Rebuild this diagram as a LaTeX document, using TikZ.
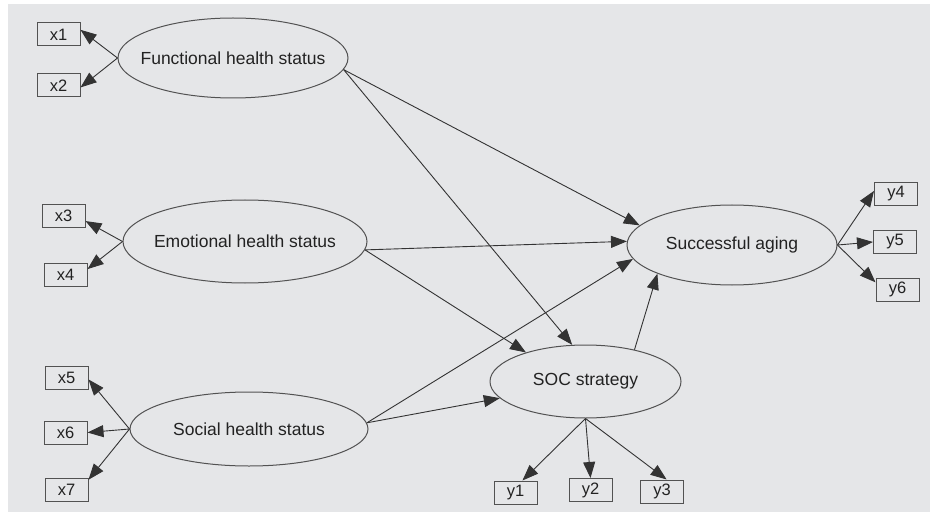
\documentclass[tikz,border=0pt]{standalone}
\usepackage{fontspec}
\setmainfont{Liberation Sans}
\usetikzlibrary{arrows.meta,shapes.geometric}
\definecolor{bggray}{HTML}{E5E6E8}
\definecolor{linegray}{HTML}{333333}
\definecolor{txtgray}{HTML}{222222}
\tikzset{
  latent/.style={ellipse, draw=linegray!85, line width=1pt, inner sep=0pt},
  obsbox/.style={rectangle, draw=linegray!85, line width=1pt, minimum width=43pt, minimum height=23pt, inner sep=0pt, text=txtgray, font=\fontsize{16.5}{18}\selectfont},
  lbl/.style={text=txtgray, font=\fontsize{17.5}{20}\selectfont},
  arr/.style={draw=linegray, line width=0.9pt, -{Triangle[length=16pt,width=12pt]}}
}
\begin{document}
\begin{tikzpicture}[x=1pt,y=-1pt]
\useasboundingbox (0,0) rectangle (934,513);
\fill[white] (0,0) rectangle (934,513);
\fill[bggray] (8,4) rectangle (930,512);
% latent variables
\node[latent, minimum width=230pt, minimum height=80pt] (fhs) at (233,58) {};
\node[lbl] (fhsT) at (fhs.center) {Functional health status};
\node[latent, minimum width=244pt, minimum height=83pt] (ehs) at (245,241.5) {};
\node[lbl] (ehsT) at (ehs.center) {Emotional health status};
\node[latent, minimum width=238pt, minimum height=74pt] (shs) at (249,429) {};
\node[lbl] (shsT) at (shs.center) {Social health status};
\node[latent, minimum width=191pt, minimum height=73pt] (soc) at (585.5,381.5) {};
\node[lbl] (socT) at (soc.center) {SOC strategy};
\node[latent, minimum width=210pt, minimum height=80pt] (sa) at (732,245) {};
\node[lbl] (saT) at (sa.center) {Successful aging};
% observed
\node[obsbox] (x1) at (58.5,34.5) {x1};
\node[obsbox] (x2) at (58.5,85.5) {x2};
\node[obsbox] (x3) at (63.5,216) {x3};
\node[obsbox] (x4) at (65.5,275) {x4};
\node[obsbox] (x5) at (66.5,377.5) {x5};
\node[obsbox] (x6) at (65.5,432.5) {x6};
\node[obsbox] (x7) at (66.5,490) {x7};
\node[obsbox] (y1) at (515.5,492.5) {y1};
\node[obsbox] (y2) at (590.5,490) {y2};
\node[obsbox] (y3) at (662,491.5) {y3};
\node[obsbox] (y4) at (896,194) {y4};
\node[obsbox] (y5) at (895,242) {y5};
\node[obsbox] (y6) at (897.5,289.5) {y6};
% measurement arrows
\draw[arr] (fhs.west) -- (x1.12);
\draw[arr] (fhs.west) -- (x2.-5);
\draw[arr] (ehs.west) -- (x3.-13);
\draw[arr] (ehs.west) -- (x4.15);
\draw[arr] (shs.west) -- (x5.-5);
\draw[arr] (shs.west) -- (x6.east);
\draw[arr] (shs.west) -- (x7.25);
\draw[arr] (sa.east) -- (y4.172);
\draw[arr] (sa.east) -- (y5.west);
\draw[arr] (sa.east) -- (y6.162);
\draw[arr] (soc.south) -- (y1.60);
\draw[arr] (soc.south) -- (y2.north);
\draw[arr] (soc.south) -- (y3.69);
% structural arrows
\draw[arr] (fhs.-6) -- (sa.168);
\draw[arr] (fhs.-6) -- (soc.110);
\draw[arr] (ehs.-4) -- (sa.178);
\draw[arr] (ehs.-4) -- (soc.154);
\draw[arr] (shs.3) -- (sa.-172);
\draw[arr] (shs.3) -- (soc.-169);
\draw[arr] (soc.33) -- (sa.-159);
\end{tikzpicture}
\end{document}
